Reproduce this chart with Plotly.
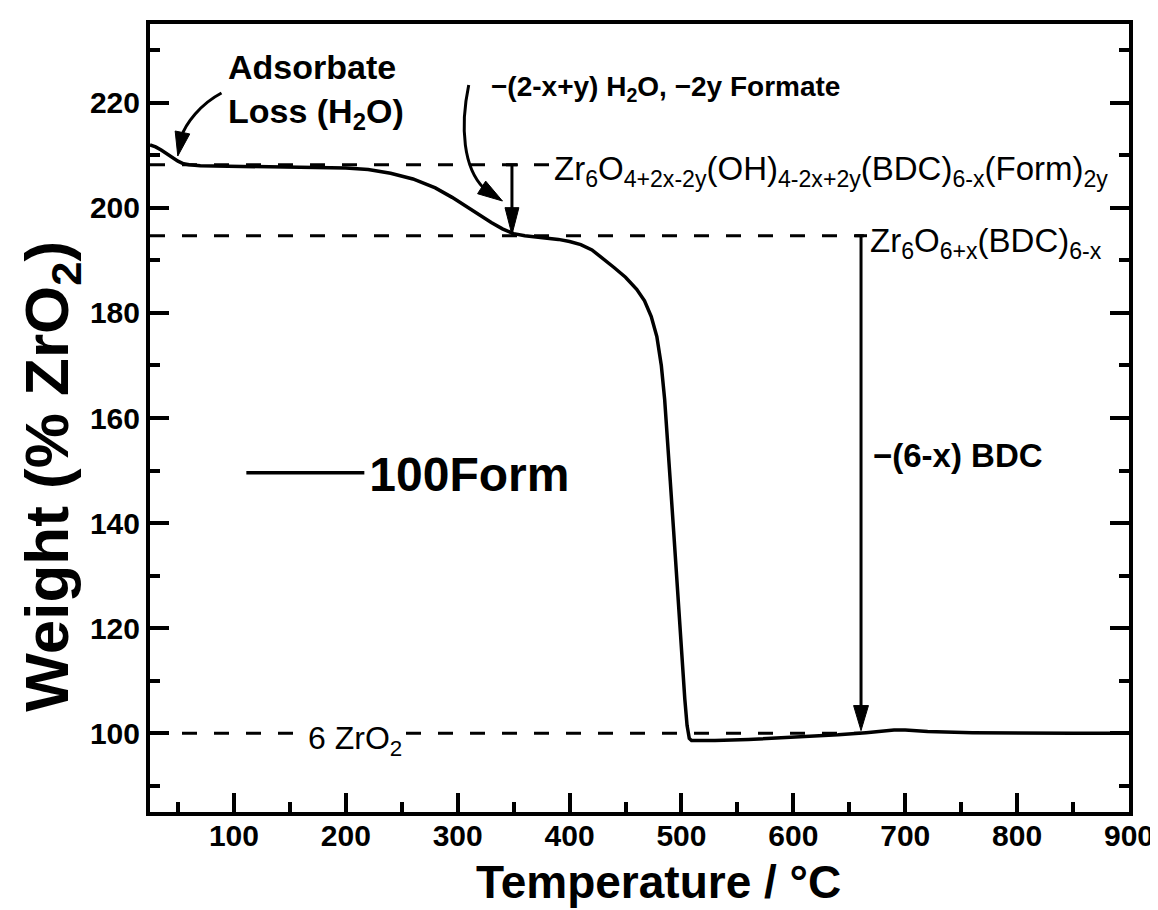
import plotly.graph_objects as go

# ---------------- data ----------------
temperature = [25, 30, 35, 40, 45, 50, 55, 60, 70, 100, 150, 200, 220, 240, 260, 280,
               295, 310, 320, 330, 340, 350, 360, 375, 390, 400, 410, 420, 430, 440,
               450, 460, 467, 473, 478, 482, 485, 488, 490, 493, 496, 499, 501, 503,
               505, 507, 509, 530, 560, 600, 640, 665, 690, 700, 720, 760, 800, 850, 900]
weight = [212.0, 211.6, 211.0, 210.3, 209.5, 208.9, 208.4, 208.2, 208.0, 207.9, 207.8,
          207.6, 207.3, 206.6, 205.5, 203.8, 202.0, 199.9, 198.5, 197.2, 196.0, 195.1,
          194.7, 194.4, 194.0, 193.6, 193.0, 192.0, 190.4, 188.6, 186.8, 184.5, 182.3,
          179.3, 175.5, 170.0, 163.5, 155.0, 148.0, 138.5, 128.5, 119.0, 112.5, 106.5,
          101.5, 99.0, 98.6, 98.6, 98.8, 99.2, 99.7, 100.1, 100.6, 100.6, 100.3, 100.1,
          100.0, 100.0, 100.0]
series_name = "100Form"

level_names = ["hydrated", "dehydroxylated", "oxide"]
level_values = [208.2, 194.7, 100.0]
level_ends = [383.5, 663.0, 660.0]

x_ticks = [100, 200, 300, 400, 500, 600, 700, 800, 900]
y_ticks = [100, 120, 140, 160, 180, 200, 220]

# ---------------- geometry helpers ----------------
X_RANGE = [25, 900]
Y_RANGE = [85, 235]
ML, MR, MT, MB = 142, 30, 16, 106
W, H = 1158, 910
PW, PH = W - ML - MR, H - MT - MB
DXP = (X_RANGE[1] - X_RANGE[0]) / PW
DYP = (Y_RANGE[1] - Y_RANGE[0]) / PH


def p2d(px, py):
    return X_RANGE[0] + (px - ML) * DXP, Y_RANGE[1] - (py - MT) * DYP


def p2paper(px, py):
    return (px - ML) / PW, (MT + PH - py) / PH


def tri_path(tx, ty, ux, uy, L=25, Wd=14):
    n = (ux ** 2 + uy ** 2) ** 0.5
    ux, uy = ux / n, uy / n
    bx = tx - L * ux * DXP
    by = ty + L * uy * DYP
    px, py = -uy, ux
    c1 = (bx + Wd / 2 * px * DXP, by - Wd / 2 * py * DYP)
    c2 = (bx - Wd / 2 * px * DXP, by + Wd / 2 * py * DYP)
    return f"M{tx},{ty} L{c1[0]},{c1[1]} L{c2[0]},{c2[1]} Z"


def bez_path(pts):
    d = [p2d(*p) for p in pts]
    return (f"M{d[0][0]},{d[0][1]} C{d[1][0]},{d[1][1]} "
            f"{d[2][0]},{d[2][1]} {d[3][0]},{d[3][1]}")


FONT = "Liberation Sans, Arial, sans-serif"

fig = go.Figure()
fig.add_trace(go.Scatter(x=temperature, y=weight, mode="lines", name=series_name,
                         line=dict(color="black", width=3.5)))

shapes = []
for v, e in zip(level_values, level_ends):
    shapes.append(dict(type="line", xref="x", yref="y", x0=X_RANGE[0], x1=e, y0=v, y1=v,
                       line=dict(color="black", width=3, dash="15px,17px"), layer="below"))

# vertical arrow (formate loss)
ax1 = 348.5
tip1 = 194.9
shapes.append(dict(type="line", xref="x", yref="y", x0=ax1, x1=ax1, y0=level_values[0],
                   y1=tip1 + 20 * DYP, line=dict(color="black", width=3)))
shapes.append(dict(type="line", xref="x", yref="y", x0=ax1 - 6 * DXP, x1=ax1 + 6 * DXP,
                   y0=level_values[0], y1=level_values[0], line=dict(color="black", width=3)))
shapes.append(dict(type="path", xref="x", yref="y", path=tri_path(ax1, tip1, 0, 1, 27, 14),
                   fillcolor="black", line=dict(color="black", width=1)))

# vertical arrow (BDC loss)
ax2 = 660.5
tip2 = 100.5
shapes.append(dict(type="line", xref="x", yref="y", x0=ax2, x1=ax2, y0=level_values[1],
                   y1=tip2 + 20 * DYP, line=dict(color="black", width=3)))
shapes.append(dict(type="line", xref="x", yref="y", x0=ax2 - 6 * DXP, x1=ax2 + 6 * DXP,
                   y0=level_values[1], y1=level_values[1], line=dict(color="black", width=3)))
shapes.append(dict(type="path", xref="x", yref="y", path=tri_path(ax2, tip2, 0, 1, 25, 15),
                   fillcolor="black", line=dict(color="black", width=1)))

# curved arrow: adsorbate loss
shapes.append(dict(type="path", xref="x", yref="y",
                   path=bez_path([(214, 85), (193, 96), (178, 115), (173, 130)]),
                   line=dict(color="black", width=3)))
t = p2d(170, 148)
shapes.append(dict(type="path", xref="x", yref="y", path=tri_path(t[0], t[1], -0.2, 1, 24, 15),
                   fillcolor="black", line=dict(color="black", width=1)))

# curved arrow: formate loss
shapes.append(dict(type="path", xref="x", yref="y",
                   path=bez_path([(463, 77), (454, 120), (458, 160), (478, 180)]),
                   line=dict(color="black", width=3)))
t = p2d(497, 193)
shapes.append(dict(type="path", xref="x", yref="y", path=tri_path(t[0], t[1], 0.85, 0.55, 25, 15),
                   fillcolor="black", line=dict(color="black", width=1)))

annotations = []


def ann(px, py, text, font, xanchor="left", bg=None):
    x, y = p2d(px, py)
    d = dict(x=x, y=y, xref="x", yref="y", text=text, showarrow=False, font=font,
             xanchor=xanchor, yanchor="middle", align="left")
    if bg:
        d["bgcolor"] = bg
        d["borderpad"] = 0
    annotations.append(d)


ann(219, 83, "Adsorbate<br>Loss (H<sub>2</sub>O)",
    dict(family=FONT, size=34, color="black", weight="bold"))
ann(483, 80, "−(2-x+y) H<sub>2</sub>O, −2y Formate",
    dict(family=FONT, size=28, color="black", weight="bold"))
ann(548, 163, "Zr<sub>6</sub>O<sub>4+2x-2y</sub>(OH)<sub>4-2x+2y</sub>(BDC)<sub>6-x</sub>(Form)<sub>2y</sub>",
    dict(family=FONT, size=33, color="black"), bg="white")
ann(866, 235, "Zr<sub>6</sub>O<sub>6+x</sub>(BDC)<sub>6-x</sub>",
    dict(family=FONT, size=33, color="black"), bg="white")
ann(868, 447, "−(6-x) BDC", dict(family=FONT, size=33, color="black", weight="bold"))
ann(300, 732, "6 ZrO<sub>2</sub>", dict(family=FONT, size=32, color="black"), bg="white")

# axis titles
xt = p2paper(654, 874)
annotations.append(dict(x=xt[0], y=xt[1], xref="paper", yref="paper",
                        text="Temperature / °C", showarrow=False,
                        xanchor="center", yanchor="middle",
                        font=dict(family=FONT, size=46, color="black", weight="bold")))
yt = p2paper(42, 468)
annotations.append(dict(x=yt[0], y=yt[1], xref="paper", yref="paper",
                        text="Weight (% ZrO<sub>2</sub>)", showarrow=False, textangle=-90,
                        xanchor="center", yanchor="middle",
                        font=dict(family=FONT, size=62, color="black", weight="bold")))

axis_common = dict(showgrid=False, zeroline=False, showline=True, linewidth=4,
                   linecolor="black", ticks="inside", tickwidth=3.5, ticklen=19,
                   tickcolor="black",
                   tickfont=dict(family=FONT, size=30, color="black", weight="bold"))

lg = p2paper(234, 465)
fig.update_layout(
    width=W, height=H,
    margin=dict(l=ML, r=MR, t=MT, b=MB),
    paper_bgcolor="white", plot_bgcolor="white",
    shapes=shapes, annotations=annotations,
    showlegend=True,
    legend=dict(x=lg[0], y=lg[1], xanchor="left", yanchor="middle",
                font=dict(family=FONT, size=48, color="black", weight="bold"),
                itemwidth=118, bgcolor="rgba(0,0,0,0)", borderwidth=0),
    xaxis=dict(range=X_RANGE, tickvals=x_ticks, mirror=True, ticklabelstandoff=-6,
               minor=dict(dtick=50, tick0=0, ticklen=10, tickwidth=3.5, ticks="inside",
                          tickcolor="black"),
               **axis_common),
    yaxis=dict(range=Y_RANGE, tickvals=y_ticks, mirror="ticks",
               minor=dict(dtick=10, tick0=0, ticklen=10, tickwidth=3.5, ticks="inside",
                          tickcolor="black"),
               **axis_common),
)

fig.write_html("out.html")
